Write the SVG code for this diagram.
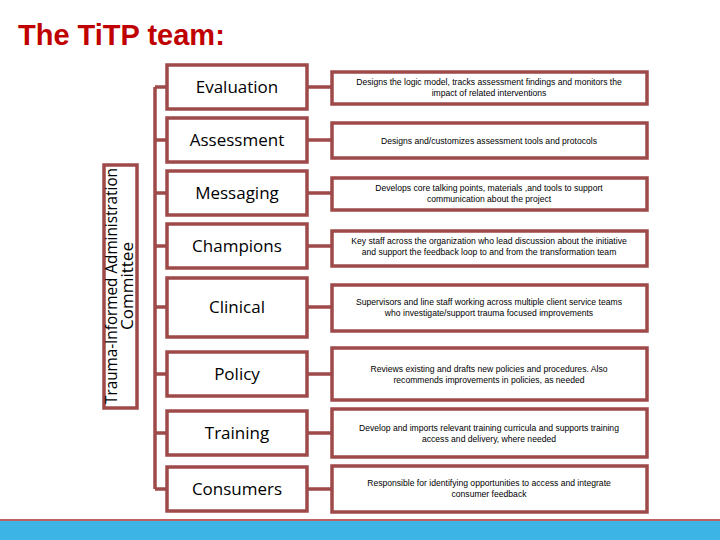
<svg xmlns="http://www.w3.org/2000/svg" width="720" height="540" viewBox="0 0 720 540">
<style>
.b{fill:#fff;stroke:#9e4a4a;stroke-width:3.5}
.c{stroke:#9e4a4a;stroke-width:3.5;fill:none}
.n{font-family:'Open Sans','Liberation Sans',Arial,sans-serif;font-size:17px;text-anchor:middle;fill:#000}
.d{font-family:'Liberation Sans',Arial,sans-serif;font-size:8.6px;text-anchor:middle;fill:#000}
</style>
<rect width="720" height="540" fill="#fff"/>
<text x="18" y="45" font-family="'Liberation Sans',Arial,sans-serif" font-size="29" font-weight="bold" fill="#c00000">The TiTP team:</text>
<g id="connectors">
<path class="c" d="M155 87V489M155 87H167M155 140H167M155 193H167M155 246H167M155 307H167M155 374H167M155 433H167M155 489H167"/>
<path class="c" d="M307 87H332M307 140H332M307 193H332M307 246H332M307 307H332M307 374H332M307 433H332M307 489H332"/>
</g>
<g id="committee"><rect class="b" x="104" y="165" width="33" height="243"/>
<text class="n" transform="translate(120,286) rotate(-90)" font-size="13.5"><tspan x="0" y="-3" textLength="236" lengthAdjust="spacingAndGlyphs">Trauma-Informed Administration</tspan><tspan x="0" y="13">Committee</tspan></text></g>
<g id="evaluation"><rect class="b" x="167" y="65" width="140" height="44"/><text class="n" x="237" y="93">Evaluation</text>
<rect class="b" x="332" y="72" width="315" height="32"/><text class="d" x="489" y="85">Designs the logic model, tracks assessment findings and monitors the</text><text class="d" x="489" y="96">impact of related interventions</text></g>
<g id="assessment"><rect class="b" x="167" y="118" width="140" height="44"/><text class="n" x="237" y="146">Assessment</text>
<rect class="b" x="332" y="123" width="315" height="35"/><text class="d" x="489" y="144">Designs and/customizes assessment tools and protocols</text></g>
<g id="messaging"><rect class="b" x="167" y="171" width="140" height="44"/><text class="n" x="237" y="199">Messaging</text>
<rect class="b" x="332" y="178" width="315" height="32"/><text class="d" x="489" y="191">Develops core talking points, materials ,and tools to support</text><text class="d" x="489" y="202">communication about the project</text></g>
<g id="champions"><rect class="b" x="167" y="224" width="140" height="44"/><text class="n" x="237" y="252">Champions</text>
<rect class="b" x="332" y="231" width="315" height="35"/><text class="d" x="489" y="244">Key staff across the organization who lead discussion about the initiative</text><text class="d" x="489" y="255">and support the feedback loop to and from the transformation team</text></g>
<g id="clinical"><rect class="b" x="167" y="278" width="140" height="59"/><text class="n" x="237" y="313">Clinical</text>
<rect class="b" x="332" y="285" width="315" height="46"/><text class="d" x="489" y="305">Supervisors and line staff working across multiple client service teams</text><text class="d" x="489" y="316">who investigate/support trauma focused improvements</text></g>
<g id="policy"><rect class="b" x="167" y="352" width="140" height="44"/><text class="n" x="237" y="380">Policy</text>
<rect class="b" x="332" y="348" width="315" height="52"/><text class="d" x="489" y="372">Reviews existing and drafts new policies and procedures. Also</text><text class="d" x="489" y="383">recommends improvements in policies, as needed</text></g>
<g id="training"><rect class="b" x="167" y="411" width="140" height="44"/><text class="n" x="237" y="439">Training</text>
<rect class="b" x="332" y="409" width="315" height="48"/><text class="d" x="489" y="431">Develop and imports relevant training curricula and supports training</text><text class="d" x="489" y="442">access and delivery, where needed</text></g>
<g id="consumers"><rect class="b" x="167" y="467" width="140" height="44"/><text class="n" x="237" y="495">Consumers</text>
<rect class="b" x="332" y="466" width="315" height="46"/><text class="d" x="489" y="486">Responsible for identifying opportunities to access and integrate</text><text class="d" x="489" y="497">consumer feedback</text></g>
<rect x="0" y="519" width="720" height="2" fill="#c06060"/>
<rect x="0" y="521" width="720" height="19" fill="#3cb4e6"/>
</svg>
